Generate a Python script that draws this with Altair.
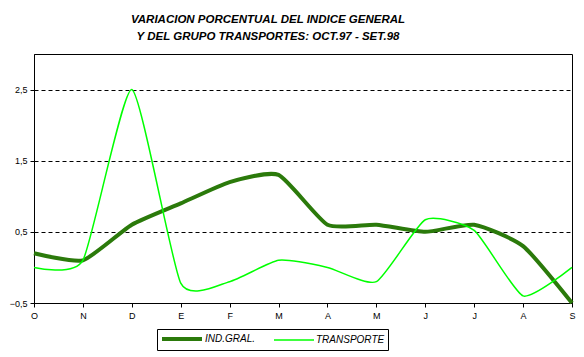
import altair as alt
import pandas as pd

months = ["O", "N", "D", "E", "F", "M", "A", "M", "J", "J", "A", "S"]
ind_gral = [0.2, 0.1, 0.6, 0.9, 1.2, 1.3, 0.6, 0.6, 0.5, 0.6, 0.3, -0.5]
transporte = [0.0, 0.1, 2.5, -0.22, -0.2, 0.1, 0.0, -0.2, 0.67, 0.52, -0.4, 0.0]
series_names = ["IND.GRAL.", "TRANSPORTE"]
title_lines = ["VARIACION PORCENTUAL DEL INDICE GENERAL",
               "Y DEL GRUPO TRANSPORTES: OCT.97 - SET.98"]
y_ticks = [-0.5, 0.5, 1.5, 2.5]

rows = []
for i, m in enumerate(months):
    rows.append({"idx": i, "serie": series_names[0], "valor": ind_gral[i], "order": 0})
    rows.append({"idx": i, "serie": series_names[1], "valor": transporte[i], "order": 1})
df = pd.DataFrame(rows)

label_expr = "[" + ",".join(f"'{m}'" for m in months) + "][datum.value]"

FONT = "Liberation Sans"

legend_cfg = dict(title=None, orient="none", legendX=123, legendY=275,
                  direction="horizontal", symbolType="M-1,0L7,0",
                  symbolSize=100, labelFontStyle="italic",
                  labelFont=FONT, labelFontSize=10, labelColor="black",
                  strokeColor="black", padding=3, columnPadding=15,
                  labelOffset=31, symbolOffset=0)

chart = alt.Chart(df).mark_line(interpolate="cardinal", tension=0.45).encode(
    x=alt.X("idx:Q",
            scale=alt.Scale(domain=[0, 11], nice=False, zero=False),
            axis=alt.Axis(values=list(range(12)), labelExpr=label_expr, title=None,
                          grid=False, tickSize=4, labelPadding=4,
                          labelFontSize=9, labelFont=FONT, labelColor="black",
                          domainColor="black", tickColor="black", labelFlush=False)),
    y=alt.Y("valor:Q",
            scale=alt.Scale(domain=[-0.5, 3.0], nice=False, zero=False),
            axis=alt.Axis(values=y_ticks, labelExpr="replace(format(datum.value, '.1f'), '.', ',')",
                          title=None, grid=True, gridDash=[4, 3], gridColor="black",
                          gridOpacity=1, tickSize=4, labelPadding=3,
                          labelFontSize=9, labelFont=FONT, labelColor="black",
                          domainColor="black", tickColor="black")),
    color=alt.Color("serie:N",
                    scale=alt.Scale(domain=series_names, range=["#2B7A0B", "#00FF00"]),
                    legend=alt.Legend(**legend_cfg)),
    strokeWidth=alt.StrokeWidth("serie:N",
                                scale=alt.Scale(domain=series_names, range=[4, 1.5]),
                                legend=alt.Legend(**legend_cfg)),
    order=alt.Order("order:Q"),
).properties(
    width=538,
    height=249,
    autosize=alt.AutoSizeParams(type="none"),
    padding={"left": 26, "top": 46, "right": 4, "bottom": 54},
    title=alt.Title(title_lines, font=FONT, fontSize=11.5, fontStyle="italic",
                    fontWeight="bold", color="black", anchor="middle", dx=-35,
                    lineHeight=17, offset=12),
).configure_view(stroke="black", strokeWidth=1)

chart.save("out.html", embed_options={"renderer": "svg", "actions": False})
